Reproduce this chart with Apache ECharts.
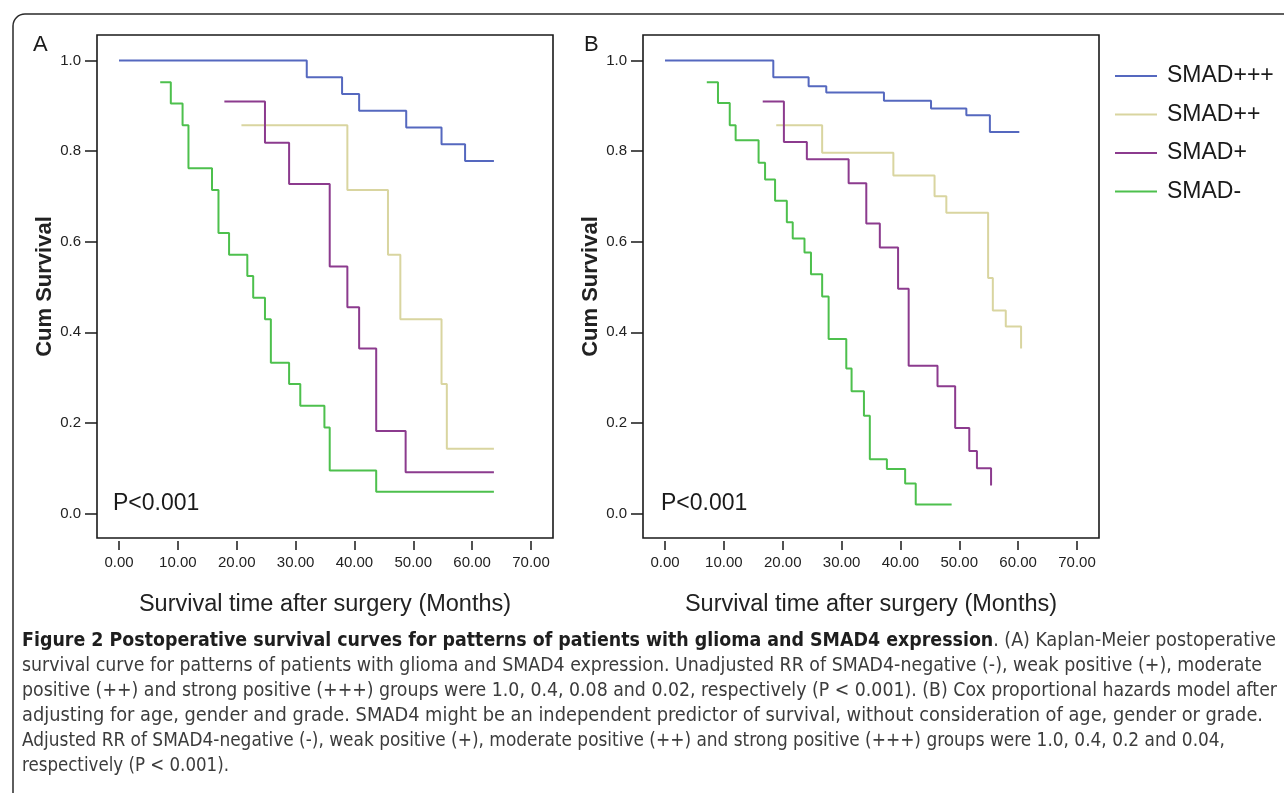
<!DOCTYPE html>
<html><head><meta charset="utf-8">
<script src="https://cdn.jsdelivr.net/npm/echarts@6/dist/echarts.min.js"></script>
<style>html,body{margin:0;padding:0;background:#fff}#c{width:1284px;height:793px}</style>
</head><body><div id="c"></div>
<script>
// ---------- data ----------
const groups = ['SMAD+++', 'SMAD++', 'SMAD+', 'SMAD-'];
const xTicks = [0, 10, 20, 30, 40, 50, 60, 70];
const yTicks = [0, 0.2, 0.4, 0.6, 0.8, 1.0];

// Panel A (Kaplan-Meier)
const A_p3_time = [0, 31.9, 37.9, 40.8, 48.8, 54.8, 58.8, 63.7];
const A_p3_surv = [1.0, 0.963, 0.926, 0.889, 0.852, 0.815, 0.778, 0.778];
const A_p2_time = [20.8, 38.8, 45.7, 47.8, 54.8, 55.7, 63.7];
const A_p2_surv = [0.857, 0.714, 0.571, 0.429, 0.286, 0.143, 0.143];
const A_p1_time = [17.9, 24.8, 28.9, 35.8, 38.8, 40.8, 43.7, 48.7, 63.7];
const A_p1_surv = [0.909, 0.818, 0.727, 0.545, 0.455, 0.364, 0.182, 0.091, 0.091];
const A_neg_time = [7.0, 8.8, 10.8, 11.8, 15.8, 16.9, 18.7, 21.8, 22.8, 24.8, 25.8, 28.9, 30.8, 34.9, 35.8, 43.7, 63.7];
const A_neg_surv = [0.952, 0.905, 0.857, 0.762, 0.714, 0.619, 0.571, 0.524, 0.476, 0.429, 0.333, 0.286, 0.238, 0.190, 0.095, 0.048, 0.048];

// Panel B (Cox adjusted)
const B_p3_time = [0, 18.4, 24.4, 27.4, 37.2, 45.2, 51.2, 55.2, 60.2];
const B_p3_surv = [1.0, 0.963, 0.943, 0.929, 0.911, 0.894, 0.879, 0.842, 0.842];
const B_p2_time = [18.9, 26.7, 38.8, 45.8, 47.8, 54.9, 55.7, 57.9, 60.5];
const B_p2_surv = [0.857, 0.796, 0.746, 0.700, 0.664, 0.520, 0.448, 0.413, 0.364];
const B_p1_time = [16.6, 20.2, 24.1, 31.2, 34.2, 36.5, 39.6, 41.4, 46.3, 49.3, 51.7, 53.0, 55.4];
const B_p1_surv = [0.909, 0.820, 0.782, 0.729, 0.640, 0.587, 0.496, 0.326, 0.281, 0.189, 0.138, 0.100, 0.062];
const B_neg_time = [7.1, 9.0, 11.0, 12.0, 15.9, 17.0, 18.7, 20.7, 21.7, 23.7, 24.8, 26.7, 27.8, 30.8, 31.7, 33.8, 34.8, 37.7, 40.8, 42.6, 48.7];
const B_neg_surv = [0.952, 0.906, 0.857, 0.824, 0.774, 0.737, 0.690, 0.643, 0.607, 0.576, 0.528, 0.479, 0.385, 0.320, 0.270, 0.216, 0.120, 0.098, 0.066, 0.020, 0.020];

const captionBold = 'Figure 2 Postoperative survival curves for patterns of patients with glioma and SMAD4 expression';
const captionLines = [
  '. (A) Kaplan-Meier postoperative',
  'survival curve for patterns of patients with glioma and SMAD4 expression. Unadjusted RR of SMAD4-negative (-), weak positive (+), moderate',
  'positive (++) and strong positive (+++) groups were 1.0, 0.4, 0.08 and 0.02, respectively (P < 0.001). (B) Cox proportional hazards model after',
  'adjusting for age, gender and grade. SMAD4 might be an independent predictor of survival, without consideration of age, gender or grade.',
  'Adjusted RR of SMAD4-negative (-), weak positive (+), moderate positive (++) and strong positive (+++) groups were 1.0, 0.4, 0.2 and 0.04,',
  'respectively (P < 0.001).'
];

// ---------- styling ----------
const colors = ['#5568bf', '#d9d5a0', '#8c3b8e', '#4dc04d'];
const font = '"Liberation Sans", Arial, sans-serif';
const capFont = '"Liberation Sans Narrow", "DejaVu Sans Condensed", "Roboto Condensed", "Liberation Sans", sans-serif';

const zip = (t, s) => t.map((v, i) => [v, s[i]]);
const panels = [
  [[A_p3_time, A_p3_surv], [A_p2_time, A_p2_surv], [A_p1_time, A_p1_surv], [A_neg_time, A_neg_surv]],
  [[B_p3_time, B_p3_surv], [B_p2_time, B_p2_surv], [B_p1_time, B_p1_surv], [B_neg_time, B_neg_surv]]
];

const gridLefts = [97, 643];
const grids = gridLefts.map(l => ({
  left: l, top: 35, width: 456, height: 503, show: true,
  borderColor: '#1a1a1a', borderWidth: 1.6, backgroundColor: '#fff'
}));

const xAxes = [0, 1].map(i => ({
  type: 'value', gridIndex: i, min: -3.74, max: 73.74, offset: 3, position: 'bottom',
  axisLine: { show: false, onZero: false },
  axisTick: { show: true, inside: false, length: 9, customValues: xTicks, lineStyle: { color: '#1a1a1a', width: 1.5 } },
  axisLabel: { customValues: xTicks, margin: 14, formatter: v => v.toFixed(2), color: '#222', fontSize: 15, fontFamily: font },
  splitLine: { show: false },
  name: 'Survival time after surgery (Months)', nameLocation: 'middle', nameGap: 52,
  nameTextStyle: { fontSize: 23.5, color: '#222', fontFamily: font }
}));

const yAxes = [0, 1].map(i => ({
  type: 'value', gridIndex: i, min: -0.054, max: 1.056, position: 'left',
  axisLine: { show: false, onZero: false },
  axisTick: { show: true, inside: false, length: 12, customValues: yTicks, lineStyle: { color: '#1a1a1a', width: 1.5 } },
  axisLabel: { customValues: yTicks, margin: 16, formatter: v => v.toFixed(1), color: '#222', fontSize: 15, fontFamily: font },
  splitLine: { show: false },
  name: 'Cum Survival', nameLocation: 'middle', nameGap: 39, nameRotate: 90,
  nameTextStyle: { fontSize: 22, fontWeight: 'bold', color: '#222', fontFamily: font }
}));

const series = [];
panels.forEach((p, pi) => {
  p.forEach((d, gi) => {
    series.push({
      type: 'line', name: groups[gi], xAxisIndex: pi, yAxisIndex: pi,
      step: 'end', symbol: 'none', showSymbol: false,
      data: zip(d[0], d[1]),
      lineStyle: { color: colors[gi], width: 2 }, itemStyle: { color: colors[gi] },
      z: 3 + gi, animation: false
    });
  });
});

// caption measurements (fit each line to its width in the figure)
const cv = document.createElement('canvas').getContext('2d');
const capSize = 19;
function w(txt, bold) { cv.font = (bold ? 'bold ' : '') + capSize + 'px ' + capFont; return cv.measureText(txt).width; }
const capRight = [1276, 1262, 1277, 1263, 1225, 229];
const capX = 22, capY0 = 641, capDY = 25.1;
const graphics = [
  { type: 'rect', shape: { x: 13, y: 14, width: 1320, height: 820, r: [12, 0, 0, 0] },
    style: { fill: 'none', stroke: '#2a2a2a', lineWidth: 1.5 }, silent: true, z: 0 },
  { type: 'text', x: 33, y: 45, style: { text: 'A', font: '22px ' + font, fill: '#1a1a1a', verticalAlign: 'middle' } },
  { type: 'text', x: 584, y: 45, style: { text: 'B', font: '22px ' + font, fill: '#1a1a1a', verticalAlign: 'middle' } },
  { type: 'text', x: 113, y: 504, z: 10, style: { text: 'P<0.001', font: '23px ' + font, fill: '#1a1a1a', verticalAlign: 'middle' } },
  { type: 'text', x: 661, y: 504, z: 10, style: { text: 'P<0.001', font: '23px ' + font, fill: '#1a1a1a', verticalAlign: 'middle' } }
];
captionLines.forEach((ln, i) => {
  let natural, style;
  if (i === 0) {
    natural = w(captionBold, true) + w(ln, false);
    style = {
      text: '{b|' + captionBold + '}{r|' + ln + '}', verticalAlign: 'middle',
      rich: {
        b: { font: 'bold ' + capSize + 'px ' + capFont, fill: '#1e1e1e' },
        r: { font: capSize + 'px ' + capFont, fill: '#3c3c3c' }
      }
    };
  } else {
    natural = w(ln, false);
    style = { text: ln, font: capSize + 'px ' + capFont, fill: '#3c3c3c', verticalAlign: 'middle' };
  }
  graphics.push({ type: 'text', x: capX, y: capY0 + i * capDY, scaleX: (capRight[i] - capX) / natural, style });
});

const chart = echarts.init(document.getElementById('c'), null, { renderer: 'canvas' });
chart.setOption({
  backgroundColor: '#fff',
  animation: false,
  grid: grids, xAxis: xAxes, yAxis: yAxes, series,
  legend: {
    data: groups, orient: 'vertical', left: 1115, top: 64, padding: 0,
    icon: 'rect', itemWidth: 42, itemHeight: 2, itemGap: 14.5,
    textStyle: { fontSize: 23, color: '#1a1a1a', fontFamily: font, lineHeight: 24, padding: [0, 0, 0, 5] }
  },
  graphic: graphics
});
</script></body></html>
